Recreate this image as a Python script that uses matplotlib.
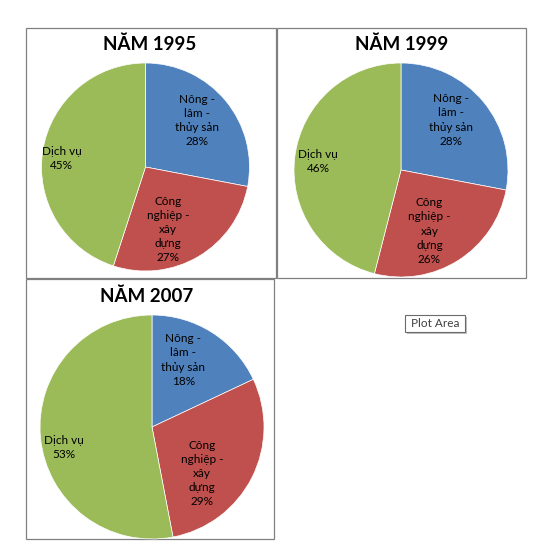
import numpy as np
import matplotlib
matplotlib.use("Agg")
import matplotlib.pyplot as plt
from matplotlib.patches import Rectangle

# ---- data ----
categories = ["Nông - lâm - thủy sản", "Công nghiệp - xây dựng", "Dịch vụ"]
titles = ["NĂM 1995", "NĂM 1999", "NĂM 2007"]
v1995 = [28, 27, 45]
v1999 = [28, 26, 46]
v2007 = [18, 29, 53]
tooltip_text = "Plot Area"

# ---- style / layout ----
W, H = 537, 552
colors = ["#4F81BD", "#C0504D", "#9BBB59"]
wrapped = {
    "Nông - lâm - thủy sản": "Nông -\nlâm -\nthủy sản",
    "Công nghiệp - xây dựng": "Công\nnghiệp -\nxây\ndựng",
    "Dịch vụ": "Dịch vụ",
}
# boxes in pixel coords (x0, y0, x1, y1), top-left origin
boxes = [(26, 28, 276, 278), (277, 28, 526, 278), (26, 279, 274, 539)]
pies = [(145.5, 167, 104), (401, 170, 107), (152, 427, 112)]
title_pos = [(150, 44), (402, 44), (147, 296)]
# label anchor (angle deg, radius fraction) per pie / category
label_pos = [
    [(42, 0.67), (-70, 0.64), (174, 0.81)],
    [(45, 0.66), (-65, 0.63), (174, 0.78)],
    [(65, 0.66), (-43, 0.61), (193, 0.81)],
]
series = [v1995, v1999, v2007]

fig = plt.figure(figsize=(W / 100, H / 100), dpi=100)
ax = fig.add_axes([0, 0, 1, 1])

def Y(py):
    return H - py

for i, vals in enumerate(series):
    x0, y0, x1, y1 = boxes[i]
    ax.add_patch(Rectangle((x0, Y(y1)), x1 - x0, y1 - y0, fill=False,
                           edgecolor="#808080", linewidth=0.9, zorder=1))
    cx, cy, r = pies[i]
    ax.pie(vals, colors=colors, startangle=90, counterclock=False,
           center=(cx, Y(cy)), radius=r, frame=True,
           wedgeprops=dict(edgecolor="white", linewidth=0.5))
    for j, cat in enumerate(categories):
        ang, frac = label_pos[i][j]
        a = np.deg2rad(ang)
        tx = cx + frac * r * np.cos(a)
        ty = Y(cy) + frac * r * np.sin(a)
        ax.text(tx, ty, f"{wrapped[cat]}\n{vals[j]}%", ha="center", va="center",
                fontsize=8.5, family="Lato", color="black", linespacing=1.35,
                zorder=5)
    tx, ty = title_pos[i]
    ax.text(tx, Y(ty), titles[i], ha="center", va="center", fontsize=13.5,
            fontweight="bold", family="Lato", color="black", zorder=5)

# tooltip
bx0, by0, bx1, by1 = 405, 315, 465, 332
ax.add_patch(Rectangle((bx0 + 2, Y(by1 + 2)), bx1 - bx0, by1 - by0,
                       facecolor="#c0c0c0", edgecolor="none", zorder=6))
ax.add_patch(Rectangle((bx0, Y(by1)), bx1 - bx0, by1 - by0,
                       facecolor="white", edgecolor="#6b6b6b", linewidth=0.8, zorder=7))
ax.text((bx0 + bx1) / 2, Y((by0 + by1) / 2), tooltip_text, ha="center", va="center",
        fontsize=8.5, family="Lato", color="#404040", zorder=8)

ax.set_xlim(0, W)
ax.set_ylim(0, H)
ax.set_aspect("equal")
ax.axis("off")
fig.savefig("out.png", dpi=100, facecolor="white")
